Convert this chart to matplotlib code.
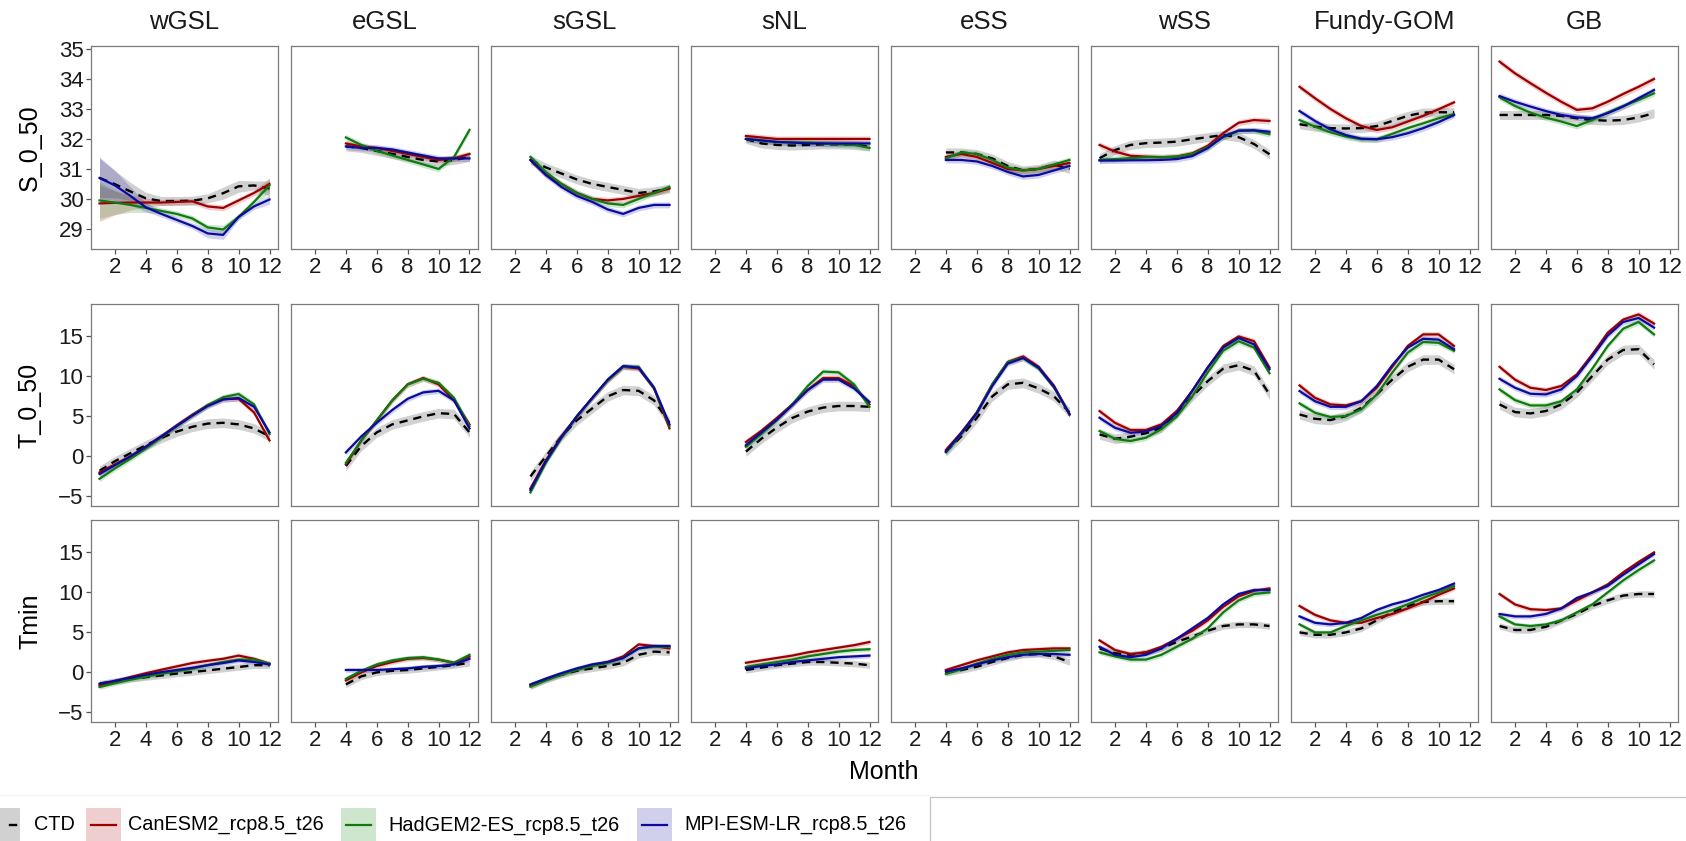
"""Monthly climatologies (CTD vs. three rcp8.5 runs) faceted by region."""

import matplotlib
matplotlib.use("Agg")
import matplotlib.pyplot as plt
from matplotlib.patches import Rectangle
from matplotlib.lines import Line2D

plt.rcParams["font.family"] = ["Liberation Sans", "DejaVu Sans"]

W, H = 1686, 841

REGIONS = ["wGSL", "eGSL", "sGSL", "sNL", "eSS", "wSS", "Fundy-GOM", "GB"]
FIRST_MONTH = {"wGSL": 1, "eGSL": 4, "sGSL": 3, "sNL": 4, "eSS": 4,
               "wSS": 1, "Fundy-GOM": 1, "GB": 1}

SERIES = ["CTD", "CanESM2_rcp8.5_t26", "HadGEM2-ES_rcp8.5_t26", "MPI-ESM-LR_rcp8.5_t26"]
LINE_COLORS = ["black", "#9b0000", "#0f7a0f", "#0a0a9e"]
FILL_COLORS = ["#8c8c8c", "#b22222", "#228b22", "#2a2ab0"]

# ---- S_0_50 -------------------------------------------------------------
S_CTD = {
    "wGSL": [30.70, 30.49, 30.25, 30.02, 29.93, 29.93, 29.94, 30.02, 30.19, 30.42, 30.45, 30.35],
    "eGSL": [31.75, 31.70, 31.60, 31.50, 31.40, 31.30, 31.25, 31.30, 31.40],
    "sGSL": [31.30, 31.05, 30.85, 30.65, 30.50, 30.40, 30.30, 30.20, 30.25, 30.35],
    "sNL": [32.00, 31.85, 31.80, 31.78, 31.80, 31.82, 31.82, 31.80, 31.75],
    "eSS": [31.55, 31.55, 31.50, 31.35, 31.10, 30.95, 31.00, 31.15, 31.00],
    "wSS": [31.36, 31.63, 31.80, 31.86, 31.88, 31.91, 31.99, 32.06, 32.13, 32.06, 31.83, 31.49],
    "Fundy-GOM": [32.49, 32.41, 32.36, 32.35, 32.36, 32.43, 32.60, 32.77, 32.88, 32.89, 32.89],
    "GB": [32.80, 32.80, 32.80, 32.80, 32.77, 32.69, 32.63, 32.61, 32.63, 32.72, 32.86],
}
S_CAN = {
    "wGSL": [29.85, 29.87, 29.88, 29.88, 29.88, 29.90, 29.92, 29.75, 29.70, 29.95, 30.20, 30.50],
    "eGSL": [31.85, 31.75, 31.70, 31.60, 31.50, 31.40, 31.30, 31.35, 31.50],
    "sGSL": [31.30, 30.80, 30.50, 30.20, 30.00, 29.95, 30.00, 30.10, 30.20, 30.35],
    "sNL": [32.10, 32.05, 32.00, 32.00, 32.00, 32.00, 32.00, 32.00, 32.00],
    "eSS": [31.40, 31.50, 31.40, 31.20, 31.00, 30.95, 31.00, 31.10, 31.20],
    "wSS": [31.80, 31.58, 31.44, 31.41, 31.39, 31.41, 31.52, 31.77, 32.19, 32.54, 32.63, 32.60],
    "Fundy-GOM": [33.74, 33.36, 33.00, 32.69, 32.43, 32.30, 32.39, 32.58, 32.77, 32.99, 33.22],
    "GB": [34.58, 34.19, 33.86, 33.54, 33.24, 32.97, 33.02, 33.24, 33.50, 33.74, 34.00],
}
S_HAD = {
    "wGSL": [29.95, 29.88, 29.80, 29.70, 29.60, 29.50, 29.35, 29.05, 28.98, 29.40, 29.90, 30.45],
    "eGSL": [32.05, 31.80, 31.60, 31.45, 31.30, 31.15, 31.00, 31.40, 32.30],
    "sGSL": [31.40, 30.90, 30.50, 30.20, 30.00, 29.85, 29.80, 30.00, 30.20, 30.40],
    "sNL": [32.00, 31.95, 31.90, 31.88, 31.88, 31.85, 31.82, 31.80, 31.70],
    "eSS": [31.35, 31.55, 31.50, 31.30, 31.05, 30.95, 31.00, 31.15, 31.30],
    "wSS": [31.30, 31.33, 31.36, 31.39, 31.39, 31.41, 31.50, 31.72, 32.06, 32.27, 32.28, 32.16],
    "Fundy-GOM": [32.63, 32.41, 32.22, 32.08, 31.99, 31.99, 32.17, 32.36, 32.52, 32.69, 32.83],
    "GB": [33.39, 33.10, 32.88, 32.71, 32.58, 32.43, 32.63, 32.88, 33.10, 33.30, 33.52],
}
S_MPI = {
    "wGSL": [30.70, 30.45, 30.10, 29.72, 29.50, 29.30, 29.10, 28.85, 28.80, 29.40, 29.75, 29.98],
    "eGSL": [31.75, 31.70, 31.70, 31.65, 31.55, 31.45, 31.35, 31.35, 31.35],
    "sGSL": [31.30, 30.80, 30.40, 30.10, 29.90, 29.65, 29.50, 29.70, 29.80, 29.80],
    "sNL": [32.00, 31.95, 31.90, 31.88, 31.85, 31.85, 31.85, 31.85, 31.85],
    "eSS": [31.30, 31.30, 31.25, 31.10, 30.90, 30.75, 30.80, 30.95, 31.10],
    "wSS": [31.28, 31.28, 31.29, 31.29, 31.30, 31.33, 31.43, 31.69, 32.08, 32.28, 32.29, 32.24],
    "Fundy-GOM": [32.93, 32.60, 32.32, 32.13, 32.01, 31.99, 32.06, 32.19, 32.36, 32.56, 32.80],
    "GB": [33.43, 33.24, 33.08, 32.93, 32.80, 32.72, 32.69, 32.86, 33.08, 33.36, 33.63],
}

# ---- T_0_50 -------------------------------------------------------------
T_CTD = {
    "wGSL": [-1.8, -0.6, 0.4, 1.4, 2.3, 3.1, 3.7, 4.1, 4.2, 4.0, 3.5, 2.5],
    "eGSL": [-1.2, 1.3, 3.0, 4.0, 4.5, 5.0, 5.4, 5.3, 3.0],
    "sGSL": [-2.5, 0.0, 2.5, 4.5, 6.0, 7.5, 8.3, 8.2, 7.0, 4.2],
    "sNL": [0.6, 2.2, 3.6, 4.8, 5.6, 6.1, 6.3, 6.3, 6.2],
    "eSS": [0.6, 2.5, 4.8, 7.5, 9.0, 9.2, 8.5, 7.5, 5.5],
    "wSS": [2.75, 2.2, 2.46, 2.9, 3.58, 5.4, 7.5, 9.4, 10.96, 11.4, 10.7, 7.75],
    "Fundy-GOM": [5.25, 4.7, 4.54, 5.04, 6.08, 7.75, 9.6, 11.2, 12.1, 12.1, 10.9],
    "GB": [6.5, 5.54, 5.37, 5.67, 6.5, 7.96, 10.04, 12.1, 13.3, 13.4, 11.5],
}
T_CAN = {
    "wGSL": [-2.0, -1.0, 0.0, 1.2, 2.5, 3.9, 5.2, 6.4, 7.2, 7.2, 5.5, 2.0],
    "eGSL": [-1.0, 2.0, 4.5, 7.0, 9.0, 9.8, 9.0, 7.0, 4.0],
    "sGSL": [-4.0, -0.5, 2.5, 5.0, 7.3, 9.5, 11.2, 11.0, 8.5, 3.5],
    "sNL": [1.8, 3.2, 4.8, 6.5, 8.3, 9.8, 9.8, 8.8, 6.5],
    "eSS": [0.8, 3.0, 5.5, 9.0, 11.8, 12.5, 11.2, 8.8, 5.2],
    "wSS": [5.67, 4.2, 3.3, 3.3, 4.0, 5.67, 8.2, 11.1, 13.8, 15.0, 14.4, 11.1],
    "Fundy-GOM": [8.87, 7.33, 6.5, 6.37, 6.9, 8.58, 11.2, 13.8, 15.25, 15.25, 13.8],
    "GB": [11.2, 9.6, 8.58, 8.3, 8.8, 10.25, 12.75, 15.46, 17.1, 17.75, 16.6],
}
T_HAD = {
    "wGSL": [-2.8, -1.5, -0.3, 1.0, 2.4, 3.8, 5.1, 6.4, 7.4, 7.8, 6.5, 2.8],
    "eGSL": [-0.8, 2.0, 4.5, 7.0, 9.0, 9.7, 9.2, 7.3, 3.8],
    "sGSL": [-4.5, -0.8, 2.3, 5.0, 7.3, 9.5, 11.2, 11.2, 8.5, 3.8],
    "sNL": [1.2, 2.8, 4.5, 6.5, 8.8, 10.6, 10.5, 9.0, 6.2],
    "eSS": [0.5, 2.8, 5.5, 9.0, 11.8, 12.3, 11.0, 8.6, 5.3],
    "wSS": [3.17, 2.2, 1.92, 2.33, 3.4, 5.0, 7.5, 10.5, 13.2, 14.4, 13.6, 10.4],
    "Fundy-GOM": [6.62, 5.46, 4.92, 5.04, 5.87, 7.75, 10.46, 12.96, 14.3, 14.2, 13.2],
    "GB": [8.37, 7.04, 6.37, 6.37, 6.9, 8.37, 10.96, 13.8, 15.96, 16.8, 15.25],
}
T_MPI = {
    "wGSL": [-2.2, -1.1, 0.0, 1.2, 2.5, 3.8, 5.1, 6.3, 7.1, 7.3, 6.2, 3.0],
    "eGSL": [0.5, 2.5, 4.2, 5.8, 7.2, 8.0, 8.2, 7.0, 3.5],
    "sGSL": [-4.2, -0.6, 2.4, 5.0, 7.3, 9.6, 11.3, 11.1, 8.6, 4.0],
    "sNL": [1.4, 3.0, 4.6, 6.4, 8.3, 9.6, 9.6, 8.5, 6.8],
    "eSS": [0.6, 2.9, 5.4, 8.8, 11.6, 12.3, 11.1, 8.7, 5.3],
    "wSS": [4.83, 3.58, 2.96, 3.1, 3.8, 5.4, 8.2, 11.1, 13.6, 14.8, 14.0, 10.9],
    "Fundy-GOM": [8.17, 6.9, 6.2, 6.2, 6.9, 8.8, 11.4, 13.6, 14.7, 14.6, 13.4],
    "GB": [9.7, 8.58, 7.83, 7.75, 8.37, 10.04, 12.5, 15.1, 16.8, 17.3, 16.1],
}

# ---- Tmin ---------------------------------------------------------------
TMIN_CTD = {
    "wGSL": [-1.4, -1.1, -0.8, -0.6, -0.38, -0.15, 0.04, 0.25, 0.46, 0.67, 0.9, 0.9],
    "eGSL": [-1.5, -0.5, 0.0, 0.2, 0.3, 0.5, 0.7, 0.9, 1.2],
    "sGSL": [-1.7, -0.9, -0.3, 0.2, 0.5, 0.8, 1.2, 2.2, 2.6, 2.5],
    "sNL": [0.3, 0.6, 0.9, 1.1, 1.3, 1.3, 1.2, 1.1, 0.9],
    "eSS": [0.0, 0.3, 0.7, 1.3, 1.8, 2.2, 2.3, 2.0, 1.3],
    "wSS": [3.0, 2.4, 2.2, 2.5, 3.0, 3.8, 4.5, 5.2, 5.8, 6.0, 6.0, 5.8],
    "Fundy-GOM": [5.0, 4.7, 4.7, 5.0, 5.5, 6.5, 7.5, 8.3, 8.8, 8.9, 8.9],
    "GB": [5.8, 5.3, 5.3, 5.7, 6.5, 7.3, 8.3, 9.0, 9.6, 9.8, 9.8],
}
TMIN_CAN = {
    "wGSL": [-1.63, -1.1, -0.58, -0.1, 0.33, 0.75, 1.17, 1.45, 1.7, 2.1, 1.7, 1.08],
    "eGSL": [-1.0, 0.0, 0.8, 1.3, 1.7, 1.8, 1.6, 1.2, 2.0],
    "sGSL": [-1.6, -0.8, -0.2, 0.4, 0.9, 1.3, 2.0, 3.5, 3.3, 3.0],
    "sNL": [1.2, 1.5, 1.8, 2.1, 2.5, 2.8, 3.1, 3.4, 3.8],
    "eSS": [0.3, 0.9, 1.5, 2.0, 2.5, 2.8, 2.9, 3.0, 3.0],
    "wSS": [4.0, 2.8, 2.3, 2.5, 3.2, 4.2, 5.2, 6.5, 8.2, 9.5, 10.2, 10.5],
    "Fundy-GOM": [8.3, 7.2, 6.5, 6.2, 6.2, 6.8, 7.3, 8.0, 8.8, 9.7, 10.5],
    "GB": [9.8, 8.5, 7.9, 7.8, 8.0, 9.0, 10.0, 11.0, 12.5, 13.8, 15.0],
}
TMIN_HAD = {
    "wGSL": [-1.83, -1.35, -0.92, -0.55, -0.17, 0.15, 0.46, 0.9, 1.3, 1.6, 1.6, 1.1],
    "eGSL": [-0.8, 0.2, 1.0, 1.5, 1.8, 1.9, 1.6, 1.2, 2.2],
    "sGSL": [-1.8, -1.0, -0.3, 0.3, 0.8, 1.2, 1.8, 3.0, 3.2, 3.2],
    "sNL": [0.7, 1.0, 1.3, 1.6, 2.0, 2.3, 2.6, 2.8, 2.9],
    "eSS": [-0.2, 0.4, 1.1, 1.7, 2.2, 2.5, 2.6, 2.7, 2.8],
    "wSS": [2.5, 2.0, 1.6, 1.6, 2.2, 3.2, 4.2, 5.5, 7.5, 9.0, 9.8, 10.0],
    "Fundy-GOM": [6.0, 5.0, 5.0, 5.8, 6.5, 7.2, 7.8, 8.5, 9.3, 10.0, 10.8],
    "GB": [7.0, 6.0, 5.8, 6.0, 6.5, 7.5, 8.5, 10.0, 11.5, 12.8, 14.0],
}
TMIN_MPI = {
    "wGSL": [-1.42, -1.05, -0.67, -0.3, 0.04, 0.3, 0.58, 0.9, 1.17, 1.5, 1.3, 1.0],
    "eGSL": [0.3, 0.3, 0.3, 0.4, 0.5, 0.7, 0.8, 1.0, 1.7],
    "sGSL": [-1.5, -0.8, -0.1, 0.5, 1.0, 1.3, 1.8, 3.0, 3.3, 3.3],
    "sNL": [0.5, 0.8, 1.0, 1.3, 1.5, 1.7, 1.9, 2.0, 2.1],
    "eSS": [0.1, 0.5, 1.0, 1.5, 1.9, 2.2, 2.3, 2.3, 2.2],
    "wSS": [3.2, 2.2, 1.9, 2.2, 3.0, 4.2, 5.5, 6.8, 8.5, 9.8, 10.3, 10.3],
    "Fundy-GOM": [7.0, 6.2, 6.0, 6.2, 6.8, 7.8, 8.5, 9.0, 9.7, 10.3, 11.1],
    "GB": [7.3, 7.0, 7.0, 7.3, 8.0, 9.3, 10.0, 10.8, 12.2, 13.5, 14.8],
}

# half-width of the confidence ribbons (CTD, Can, Had, MPI)
S_BAND = [0.15, 0.1, 0.1, 0.1]
T_BAND = [0.6, 0.35, 0.35, 0.35]
TMIN_BAND = [0.4, 0.3, 0.3, 0.3]
# wGSL salinity has wide ribbons at the start of the year
S_BAND_WGSL = [
    [0.65, 0.45, 0.3, 0.2, 0.15, 0.15, 0.15, 0.15, 0.2, 0.2, 0.15, 0.25],
    [0.6, 0.4, 0.25, 0.15, 0.1, 0.1, 0.1, 0.1, 0.1, 0.1, 0.1, 0.2],
    [0.6, 0.4, 0.25, 0.15, 0.1, 0.1, 0.1, 0.1, 0.15, 0.1, 0.1, 0.25],
    [0.7, 0.5, 0.3, 0.15, 0.1, 0.1, 0.1, 0.15, 0.15, 0.1, 0.1, 0.15],
]

ROWS = [
    ("S_0_50", [S_CTD, S_CAN, S_HAD, S_MPI], S_BAND, (28.33, 35.1), [29, 30, 31, 32, 33, 34, 35]),
    ("T_0_50", [T_CTD, T_CAN, T_HAD, T_MPI], T_BAND, (-6.2, 19.05), [-5, 0, 5, 10, 15]),
    ("Tmin", [TMIN_CTD, TMIN_CAN, TMIN_HAD, TMIN_MPI], TMIN_BAND, (-6.2, 19.05), [-5, 0, 5, 10, 15]),
]

# panel geometry in pixels
PANEL_LEFT0, PANEL_STEP, PANEL_W = 91, 200, 187
ROW_TOPS = [46, 304, 520]
ROW_BOTTOMS = [249, 506, 722]
X_LABEL_ROWS = {0, 2}


def to_fig(left, top, right, bottom):
    return [left / W, 1 - bottom / H, (right - left) / W, (bottom - top) / H]


fig = plt.figure(figsize=(W / 100, H / 100), dpi=100)

overlay = fig.add_axes([0, 0, 1, 1])
overlay.set_xlim(0, W)
overlay.set_ylim(H, 0)
overlay.axis("off")

for r, (row_name, row_data, row_band, ylim, yticks) in enumerate(ROWS):
    for c, region in enumerate(REGIONS):
        left = PANEL_LEFT0 + c * PANEL_STEP
        ax = fig.add_axes(to_fig(left, ROW_TOPS[r], left + PANEL_W, ROW_BOTTOMS[r]))
        first = FIRST_MONTH[region]
        for k, series_dict in enumerate(row_data):
            vals = series_dict[region]
            months = list(range(first, first + len(vals)))
            if r == 0 and region == "wGSL":
                band = S_BAND_WGSL[k]
            else:
                band = [row_band[k]] * len(vals)
            lo = [v - b for v, b in zip(vals, band)]
            hi = [v + b for v, b in zip(vals, band)]
            ax.fill_between(months, lo, hi, color=FILL_COLORS[k],
                            alpha=0.4 if k == 0 else 0.22, linewidth=0)
            if k == 0:
                ax.plot(months, vals, color=LINE_COLORS[k], lw=1.7,
                        linestyle=(0, (3.5, 2.5)), solid_capstyle="butt")
            else:
                ax.plot(months, vals, color=LINE_COLORS[k], lw=1.6)
        ax.set_xlim(0.45, 12.55)
        ax.set_ylim(*ylim)
        ax.set_xticks([2, 4, 6, 8, 10, 12])
        ax.set_yticks(yticks)
        for sp in ax.spines.values():
            sp.set_color("#7a7a7a")
            sp.set_linewidth(0.9)
        ax.tick_params(direction="out", length=3.5, width=0.9, color="#555555",
                       labelsize=16, labelcolor="#1a1a1a", pad=2)
        if r not in X_LABEL_ROWS:
            ax.tick_params(axis="x", length=0, labelbottom=False)
        if c != 0:
            ax.tick_params(axis="y", length=0, labelleft=False)
        if r == 0:
            overlay.text(left + PANEL_W / 2, 22, region, ha="center", va="center",
                         fontsize=18.5, color="#1a1a1a")
    mid = (ROW_TOPS[r] + ROW_BOTTOMS[r]) / 2
    overlay.text(30, mid, row_name, rotation=90, ha="center", va="center",
                 fontsize=18, color="black")

overlay.text(884, 772, "Month", ha="center", va="center", fontsize=18, color="black")

# bottom legend (partly cut off on the left, as in the original)
overlay.plot([0, 930], [795, 795], color="#f2f2f2", lw=0.8)
overlay.add_patch(Rectangle((930, 797), 800, 100, facecolor="none",
                            edgecolor="#c4c4c4", lw=0.9))
legend_keys = [(-15, 34), (86, 128), (341, 388), (637, 684)]
for k, (key_x, text_x) in enumerate(legend_keys):
    overlay.add_patch(Rectangle((key_x, 808), 35, 40, facecolor=FILL_COLORS[k],
                                alpha=0.4 if k == 0 else 0.22, lw=0))
    if k == 0:
        overlay.add_line(Line2D([key_x + 25, key_x + 31], [825, 825], color="black", lw=1.7))
    else:
        overlay.add_line(Line2D([key_x + 5, key_x + 30], [825, 825],
                                color=LINE_COLORS[k], lw=1.6))
    overlay.text(text_x, 825, SERIES[k], ha="left", va="center", fontsize=14.3, color="black")

fig.savefig("out.png", dpi=100)
